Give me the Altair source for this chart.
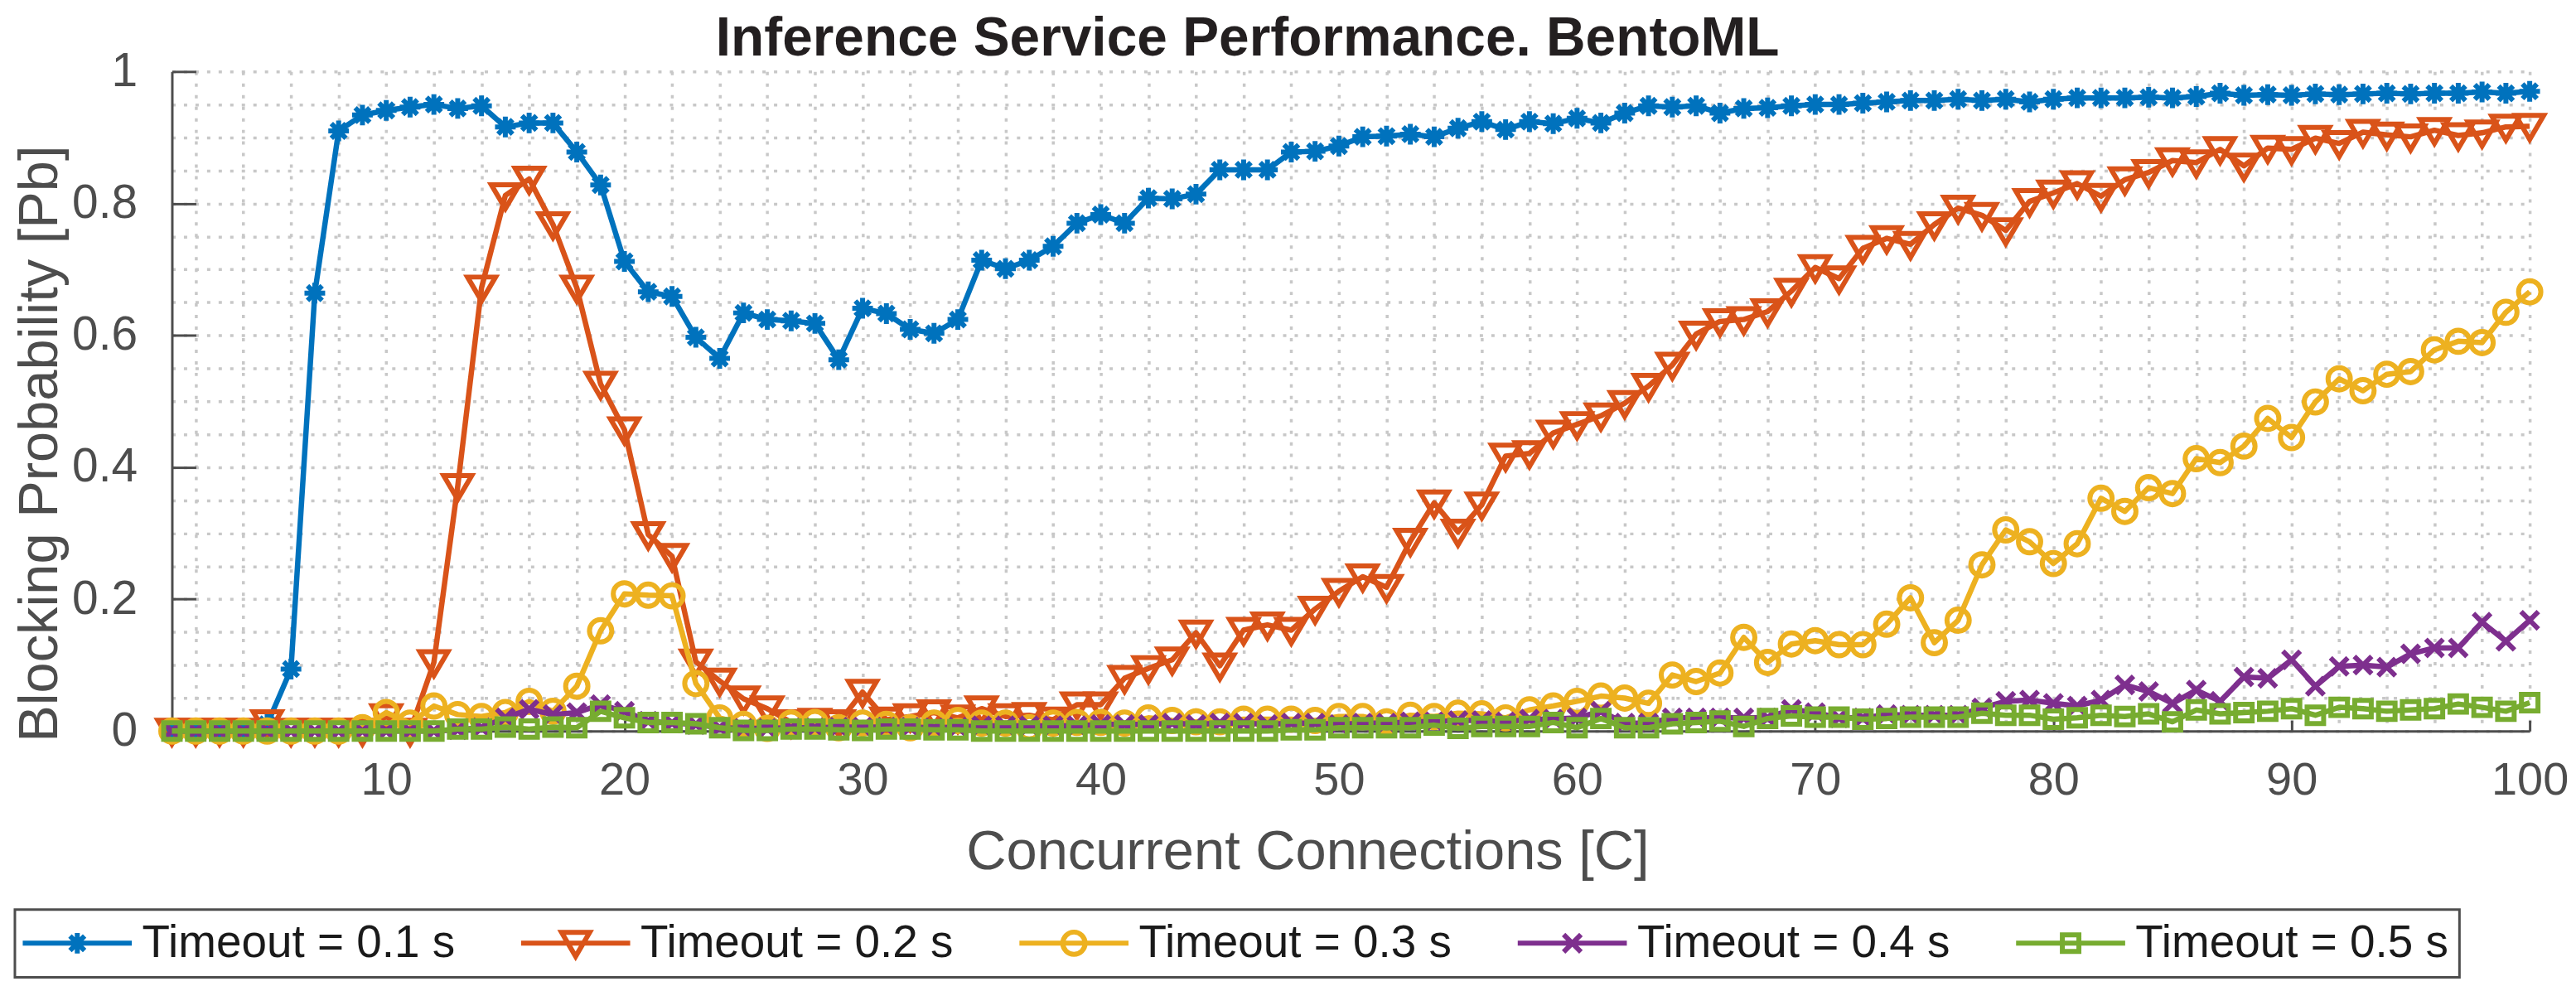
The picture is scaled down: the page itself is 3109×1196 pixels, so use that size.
import altair as alt
import pandas as pd

# ---------------- data ----------------
connections = list(range(1, 101))

pb_timeout_01 = [0, 0, 0, 0, 0.01, 0.094, 0.664, 0.91, 0.934, 0.941,
                 0.946, 0.950, 0.944, 0.948, 0.916, 0.922, 0.922, 0.878, 0.828, 0.712,
                 0.666, 0.659, 0.597, 0.565, 0.634, 0.624, 0.622, 0.618, 0.563, 0.641,
                 0.633, 0.609, 0.603, 0.624, 0.714, 0.701, 0.714, 0.735, 0.770, 0.783,
                 0.770, 0.808, 0.807, 0.814, 0.851, 0.851, 0.851, 0.878, 0.879, 0.887,
                 0.901, 0.902, 0.905, 0.901, 0.914, 0.924, 0.912, 0.924, 0.921, 0.929,
                 0.922, 0.937, 0.948, 0.946, 0.948, 0.937, 0.944, 0.945, 0.948, 0.950,
                 0.950, 0.952, 0.954, 0.956, 0.956, 0.958, 0.956, 0.958, 0.954, 0.958,
                 0.960, 0.960, 0.960, 0.961, 0.960, 0.962, 0.967, 0.964, 0.965, 0.964,
                 0.966, 0.965, 0.966, 0.967, 0.966, 0.967, 0.967, 0.969, 0.967, 0.970]

pb_timeout_02 = [0, 0, 0, 0, 0.013, 0, 0, 0, 0, 0.022,
                 0, 0.104, 0.371, 0.672, 0.812, 0.837, 0.768, 0.672, 0.526, 0.457,
                 0.298, 0.265, 0.105, 0.076, 0.049, 0.034, 0.013, 0.015, 0.013, 0.059,
                 0.017, 0.022, 0.028, 0.020, 0.034, 0.022, 0.024, 0.017, 0.040, 0.040,
                 0.080, 0.095, 0.108, 0.149, 0.099, 0.153, 0.161, 0.153, 0.185, 0.212,
                 0.234, 0.218, 0.288, 0.346, 0.302, 0.343, 0.417, 0.421, 0.452, 0.465,
                 0.478, 0.497, 0.523, 0.555, 0.602, 0.621, 0.624, 0.636, 0.667, 0.703,
                 0.686, 0.732, 0.747, 0.738, 0.768, 0.793, 0.782, 0.759, 0.803, 0.816,
                 0.830, 0.811, 0.836, 0.847, 0.865, 0.862, 0.882, 0.857, 0.884, 0.882,
                 0.899, 0.891, 0.908, 0.904, 0.901, 0.911, 0.903, 0.907, 0.916, 0.917]

pb_timeout_03 = [0, 0, 0, 0, 0, 0, 0, 0, 0.005, 0.028,
                 0.012, 0.038, 0.025, 0.022, 0.028, 0.045, 0.030, 0.068, 0.152, 0.208,
                 0.206, 0.205, 0.072, 0.020, 0.010, 0.004, 0.012, 0.013, 0.005, 0.012,
                 0.010, 0.005, 0.012, 0.016, 0.012, 0.012, 0.005, 0.012, 0.013, 0.013,
                 0.012, 0.020, 0.016, 0.014, 0.014, 0.018, 0.018, 0.018, 0.016, 0.022,
                 0.022, 0.014, 0.024, 0.022, 0.027, 0.026, 0.020, 0.032, 0.038, 0.045,
                 0.053, 0.050, 0.042, 0.085, 0.075, 0.088, 0.142, 0.104, 0.132, 0.137,
                 0.131, 0.131, 0.162, 0.202, 0.134, 0.168, 0.252, 0.305, 0.287, 0.254,
                 0.284, 0.353, 0.333, 0.369, 0.360, 0.413, 0.407, 0.432, 0.474, 0.445,
                 0.499, 0.534, 0.516, 0.541, 0.545, 0.578, 0.591, 0.589, 0.635, 0.666]

pb_timeout_04 = [0, 0, 0, 0, 0, 0, 0, 0, 0, 0,
                 0, 0, 0.002, 0.005, 0.020, 0.033, 0.025, 0.028, 0.040, 0.030,
                 0.015, 0.012, 0.010, 0.005, 0.004, 0.004, 0.005, 0.005, 0.006, 0.006,
                 0.006, 0.006, 0.005, 0.006, 0.008, 0.008, 0.008, 0.008, 0.008, 0.010,
                 0.010, 0.010, 0.012, 0.010, 0.012, 0.012, 0.010, 0.012, 0.012, 0.010,
                 0.012, 0.012, 0.014, 0.014, 0.016, 0.016, 0.014, 0.018, 0.018, 0.020,
                 0.030, 0.012, 0.012, 0.020, 0.020, 0.020, 0.020, 0.020, 0.033, 0.028,
                 0.020, 0.020, 0.025, 0.024, 0.024, 0.024, 0.035, 0.045, 0.047, 0.042,
                 0.038, 0.047, 0.070, 0.060, 0.042, 0.062, 0.045, 0.082, 0.080, 0.108,
                 0.068, 0.098, 0.100, 0.097, 0.117, 0.126, 0.126, 0.165, 0.136, 0.168]

pb_timeout_05 = [0, 0, 0, 0, 0, 0, 0, 0, 0, 0,
                 0, 0, 0.003, 0.003, 0.006, 0.003, 0.006, 0.005, 0.030, 0.020,
                 0.013, 0.013, 0.011, 0.005, 0.001, 0.001, 0.003, 0.003, 0.002, 0.001,
                 0.003, 0.003, 0.002, 0.002, 0, 0, 0, 0, 0, 0,
                 0, 0, 0, 0, 0, 0, 0, 0.002, 0.002, 0.005,
                 0.005, 0.005, 0.005, 0.009, 0.004, 0.007, 0.007, 0.007, 0.013, 0.005,
                 0.019, 0.005, 0.005, 0.011, 0.013, 0.015, 0.007, 0.019, 0.023, 0.021,
                 0.021, 0.018, 0.019, 0.021, 0.021, 0.021, 0.027, 0.024, 0.024, 0.018,
                 0.020, 0.024, 0.022, 0.026, 0.014, 0.032, 0.026, 0.028, 0.030, 0.034,
                 0.024, 0.036, 0.034, 0.030, 0.032, 0.034, 0.041, 0.036, 0.030, 0.043]

series_names = ["Timeout = 0.1 s", "Timeout = 0.2 s", "Timeout = 0.3 s",
                "Timeout = 0.4 s", "Timeout = 0.5 s"]
series_values = [pb_timeout_01, pb_timeout_02, pb_timeout_03, pb_timeout_04, pb_timeout_05]

x_tick_values = [10, 20, 30, 40, 50, 60, 70, 80, 90, 100]
y_tick_values = [0, 0.2, 0.4, 0.6, 0.8, 1]
x_grid_values = list(range(2, 101, 2))
y_grid_values = [round(i * 0.05, 2) for i in range(21)]

rows = []
for name, vals in zip(series_names, series_values):
    for c, v in zip(connections, vals):
        rows.append({"C": c, "Pb": v, "series": name})
df = pd.DataFrame(rows)

# ---------------- style ----------------
FONT = "Liberation Sans"
AX = "#4d4d4d"
GRID = "#c8c8c8"
colors = ["#0072BD", "#D95319", "#EDB120", "#7E2F8E", "#77AC30"]

U = 15.0  # pixels per path unit (symbol size 900 -> sqrt/2 = 15)


def p(v):
    return f"{v / U:.3f}"


def asterisk(r):
    a = r * 0.707
    return (f"M0,{p(-r)}L0,{p(r)}M{p(-r)},0L{p(r)},0"
            f"M{p(-a)},{p(-a)}L{p(a)},{p(a)}M{p(-a)},{p(a)}L{p(a)},{p(-a)}")


def tri_down(w, h):
    return f"M{p(-w / 2)},{p(-h * 0.45)}L{p(w / 2)},{p(-h * 0.45)}L0,{p(h * 0.55)}Z"


def circle(r):
    return f"M{p(r)},0A{p(r)},{p(r)},0,1,1,{p(-r)},0A{p(r)},{p(r)},0,1,1,{p(r)},0Z"


def xmark(r):
    return f"M{p(-r)},{p(-r)}L{p(r)},{p(r)}M{p(-r)},{p(r)}L{p(r)},{p(-r)}"


def square(r):
    return f"M{p(-r)},{p(-r)}L{p(r)},{p(-r)}L{p(r)},{p(r)}L{p(-r)},{p(r)}Z"


marker_paths = [asterisk(12.5), tri_down(34, 29), circle(13.5), xmark(10.5), square(10)]
legend_line = f"M{p(-66)},0L{p(66)},0"
legend_paths = [legend_line + m for m in marker_paths]

LW = 6.5   # line width
MW = 6     # marker edge width
W, H = 2853, 798

xscale = alt.Scale(domain=[1, 100], nice=False, zero=False)
yscale = alt.Scale(domain=[0, 1], nice=False, zero=False)

X_main = alt.X(
    "C:Q", scale=xscale,
    axis=alt.Axis(values=x_grid_values,
                  labelExpr="datum.value % 10 === 0 ? datum.label : ''",
                  labelOverlap=False, labelFlush=False,
                  grid=True, gridColor=GRID, gridDash=[4, 10], gridWidth=3.5,
                  ticks=False, tickSize=0,
                  domainColor=AX, domainWidth=3,
                  labelFont=FONT, labelFontSize=56, labelColor=AX, labelPadding=32,
                  title="Concurrent Connections [C]", titleFont=FONT, titleFontSize=67,
                  titleFontWeight="normal", titleColor=AX,
                  titleX=1374, titleY=167, titleBaseline="alphabetic", titleAlign="center"))

Y_main = alt.Y(
    "Pb:Q", scale=yscale,
    axis=alt.Axis(values=y_grid_values, format="~g",
                  labelExpr="abs(datum.value*5 - round(datum.value*5)) < 0.001 ? datum.label : ''",
                  labelOverlap=False, labelFlush=False,
                  grid=True, gridColor=GRID, gridDash=[4, 10], gridWidth=3.5,
                  ticks=False, tickSize=0,
                  domainColor=AX, domainWidth=3,
                  labelFont=FONT, labelFontSize=57, labelColor=AX, labelPadding=42,
                  title="Blocking Probability [Pb]", titleFont=FONT, titleFontSize=67,
                  titleFontWeight="normal", titleColor=AX,
                  titleX=-139, titleY=450, titleAngle=270,
                  titleBaseline="alphabetic", titleAlign="center"))

X_tick = alt.X(
    "C:Q", scale=xscale,
    axis=alt.Axis(orient="top", offset=-H, values=x_tick_values, labels=False,
                  domain=False, grid=False, ticks=True, tickSize=13, tickWidth=3,
                  tickColor=AX, title=""))

Y_tick = alt.Y(
    "Pb:Q", scale=yscale,
    axis=alt.Axis(orient="right", offset=-W, values=y_tick_values, labels=False,
                  domain=False, grid=False, ticks=True, tickSize=29, tickWidth=3,
                  tickColor=AX, title=""))

base = alt.Chart(df)

data_layers = []
for name, col, mp in zip(series_names, colors, marker_paths):
    sub = base.transform_filter(alt.datum.series == name)
    data_layers.append(
        sub.mark_line(strokeWidth=LW, color=col, strokeJoin="round").encode(x=X_main, y=Y_main))
    data_layers.append(
        sub.mark_point(shape=mp, size=900, filled=False, strokeWidth=MW, color=col,
                       opacity=1, strokeJoin="miter").encode(x=X_main, y=Y_main))

main = alt.layer(*data_layers)

legend = alt.Legend(title=None, orient="none", legendX=-190, legendY=1014,
                    direction="horizontal", columns=5, columnPadding=67,
                    padding=13, strokeColor=AX, fillColor="white",
                    symbolSize=900, symbolStrokeWidth=MW, symbolOffset=35,
                    labelOffset=51, labelFont=FONT, labelFontSize=55,
                    labelColor="#1a1a1a", labelLimit=1000)

aux = base.transform_filter("false").mark_point(
    filled=False, strokeWidth=MW, size=900, opacity=1).encode(
    x=X_tick, y=Y_tick,
    color=alt.Color("series:N", scale=alt.Scale(domain=series_names, range=colors),
                    legend=legend),
    shape=alt.Shape("series:N", scale=alt.Scale(domain=series_names, range=legend_paths),
                    legend=legend))

chart = alt.layer(main, aux).resolve_axis(
    x="independent", y="independent"
).properties(
    width=W, height=H,
    title=alt.Title("Inference Service Performance. BentoML", font=FONT, fontSize=66,
                    fontWeight="bold", color="#231f20", anchor="middle", frame="group",
                    dx=-125, offset=-24),
    autosize=alt.AutoSizeParams(type="none"),
    padding={"left": 200, "top": 77, "right": 48, "bottom": 300},
).configure_view(stroke="transparent").configure_legend(strokeWidth=3)

chart.save("out.html", embed_options={"renderer": "svg", "actions": False})
